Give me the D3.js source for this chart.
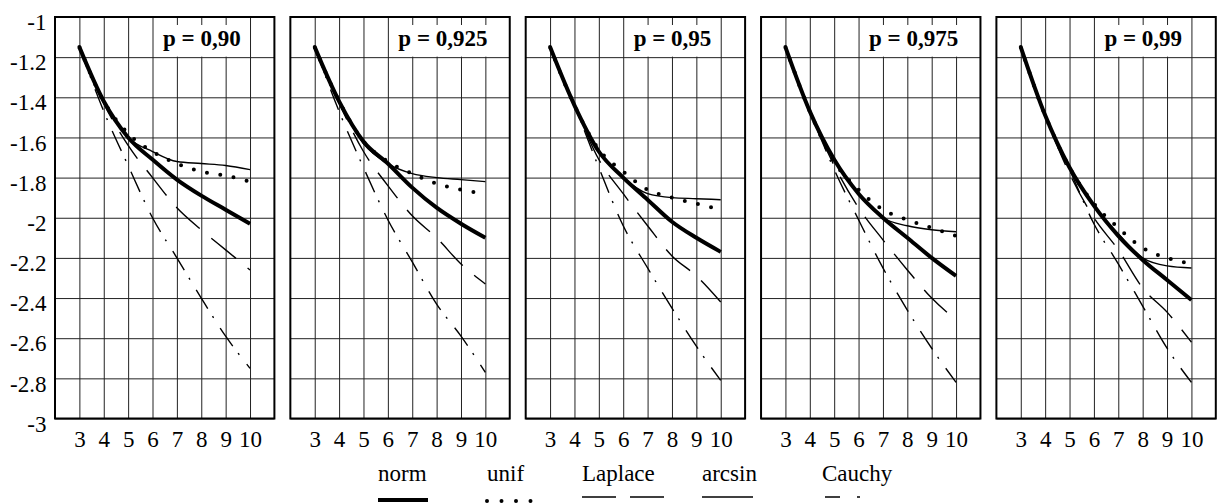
<!DOCTYPE html>
<html lang="en">
<head>
  <meta charset="UTF-8">
  <title>Quantile curves, five p levels</title>
  <script src="https://d3js.org/d3.v7.min.js"></script>
  <style>
  body {
    margin: 0;
    background: #fff;
  }
  svg text {
    font-family: "Liberation Serif", "Times New Roman", serif;
    fill: #000;
  }
  .grid line {
    stroke: #222;
    stroke-width: 1px;
  }
  .series {
    fill: none;
    stroke: #000;
  }
  </style>
</head>

<body>
  <div id="chart"></div>

  <script>

    var w = 1219;
    var h = 503;

    // data
    var xs = [3, 4, 5, 6, 7, 8, 9, 10];
    var yTicks = [-1, -1.2, -1.4, -1.6, -1.8, -2, -2.2, -2.4, -2.6, -2.8, -3];
    var panelLabels = ["p = 0,90", "p = 0,925", "p = 0,95", "p = 0,975", "p = 0,99"];
    var seriesNames = ["norm", "unif", "Laplace", "arcsin", "Cauchy"];

    // one row per panel, values at xs
    var norm = [
      [-1.15, -1.42, -1.60, -1.71, -1.81, -1.89, -1.96, -2.03],
      [-1.15, -1.42, -1.62, -1.73, -1.85, -1.95, -2.03, -2.10],
      [-1.15, -1.44, -1.67, -1.80, -1.91, -2.02, -2.10, -2.17],
      [-1.15, -1.47, -1.71, -1.88, -2.00, -2.10, -2.20, -2.29],
      [-1.15, -1.49, -1.75, -1.94, -2.09, -2.21, -2.31, -2.41]
    ];
    var unif = [
      [-1.15, -1.42, -1.58, -1.67, -1.73, -1.77, -1.79, -1.82],
      [-1.15, -1.42, -1.62, -1.72, -1.78, -1.83, -1.86, -1.88],
      [-1.15, -1.44, -1.66, -1.77, -1.86, -1.90, -1.93, -1.96],
      [-1.15, -1.47, -1.72, -1.86, -1.96, -2.01, -2.05, -2.09],
      [-1.15, -1.49, -1.75, -1.93, -2.05, -2.15, -2.20, -2.23]
    ];
    var laplace = [
      [-1.15, -1.43, -1.64, -1.80, -1.95, -2.06, -2.16, -2.26],
      [-1.15, -1.43, -1.67, -1.84, -1.99, -2.10, -2.23, -2.33],
      [-1.15, -1.44, -1.71, -1.88, -2.04, -2.19, -2.29, -2.42],
      [-1.15, -1.47, -1.74, -1.95, -2.11, -2.26, -2.40, -2.51],
      [-1.15, -1.49, -1.78, -2.00, -2.16, -2.35, -2.47, -2.62]
    ];
    var arcsin = [
      [-1.15, -1.42, -1.60, -1.67, -1.72, -1.73, -1.74, -1.76],
      [-1.15, -1.42, -1.63, -1.73, -1.78, -1.80, -1.81, -1.82],
      [-1.15, -1.44, -1.67, -1.80, -1.88, -1.90, -1.905, -1.91],
      [-1.15, -1.47, -1.71, -1.88, -2.00, -2.04, -2.06, -2.07],
      [-1.15, -1.49, -1.75, -1.94, -2.08, -2.20, -2.24, -2.25]
    ];
    var cauchy = [
      [-1.15, -1.47, -1.74, -2.00, -2.20, -2.40, -2.59, -2.75],
      [-1.15, -1.47, -1.75, -2.01, -2.22, -2.43, -2.59, -2.77],
      [-1.15, -1.44, -1.75, -2.04, -2.25, -2.45, -2.64, -2.81],
      [-1.15, -1.47, -1.76, -2.01, -2.25, -2.46, -2.65, -2.82],
      [-1.15, -1.49, -1.76, -2.03, -2.23, -2.44, -2.65, -2.82]
    ];

    var seriesValues = [norm, unif, laplace, arcsin, cauchy];

    // line look for each series
    var styles = [
      {width: 4, dash: null, cap: "butt"},
      {width: 4, dash: "0,13.5", cap: "round"},
      {width: 1.4, dash: "32,15", cap: "butt"},
      {width: 1.4, dash: null, cap: "butt"},
      {width: 1.4, dash: "22,9,2,12", cap: "butt"}
    ];

    var svg = d3.select("#chart").append("svg")
         .attr("width", w)
         .attr("height", h);

    var plotTop = 17, plotBottom = 418.5;
    var left0 = 55, pstep = 235.35, pw = 219.4;

    var y = d3.scaleLinear()
          .domain([-3, -1])
          .range([plotBottom, plotTop]);

    function cleanAxis(s) {
      s.select(".domain").remove();
      s.attr("font-family", null).attr("font-size", null);
    }

    panelLabels.forEach(function(lab, i) {
      var left = left0 + i * pstep;
      var x = d3.scaleLinear()
            .domain([2, 11])
            .range([left, left + pw]);

      var g = svg.append("g").attr("class", "panel");

      // vertical grid
      g.append("g")
        .attr("class", "grid")
        .attr("transform", "translate(0," + plotBottom + ")")
        .call(d3.axisBottom(x).tickValues(xs).tickSize(-(plotBottom - plotTop)).tickFormat(""))
        .call(cleanAxis);

      // horizontal grid
      g.append("g")
        .attr("class", "grid")
        .attr("transform", "translate(" + left + ",0)")
        .call(d3.axisRight(y).tickValues(yTicks).tickSize(pw).tickFormat(""))
        .call(cleanAxis);

      // x labels
      g.append("g")
        .attr("transform", "translate(0," + plotBottom + ")")
        .call(d3.axisBottom(x).tickValues(xs).tickSize(0).tickPadding(12))
        .call(cleanAxis)
        .call(function(s) {
          s.selectAll("text").style("font-size", "23px");
        });

      // y labels only on first panel
      if (i === 0) {
        g.append("g")
          .attr("transform", "translate(" + left + ",0)")
          .call(d3.axisLeft(y).tickValues(yTicks).tickSize(0).tickPadding(8.5)
                .tickFormat(function(d) { return String(d); }))
          .call(cleanAxis)
          .call(function(s) {
            s.selectAll("text").style("font-size", "23px").attr("dy", "0.55em");
          });
      }

      // p label with white box
      var lbl = g.append("g");
      var box = lbl.append("rect").attr("fill", "#fff");
      var t = lbl.append("text")
         .attr("x", left + 108)
         .attr("y", 46)
         .style("font-size", "23px")
         .style("font-weight", "bold")
         .text(lab);
      var bb = t.node().getBBox();
      box.attr("x", bb.x - 6)
         .attr("y", 25)
         .attr("width", bb.width + 12)
         .attr("height", y(-1.2) - 25 - 0.5);

      // series
      var line = d3.line()
            .x(function(d, k) { return x(xs[k]); })
            .y(function(d) { return y(d); })
            .curve(d3.curveMonotoneX);

      seriesValues.forEach(function(vals, s) {
        var st = styles[s];
        g.append("path")
          .attr("class", "series")
          .attr("d", line(vals[i]))
          .attr("stroke-width", st.width)
          .attr("stroke-dasharray", st.dash)
          .attr("stroke-linecap", st.cap);
      });

      // frame
      g.append("rect")
        .attr("x", left)
        .attr("y", plotTop)
        .attr("width", pw)
        .attr("height", plotBottom - plotTop)
        .attr("fill", "none")
        .attr("stroke", "#000")
        .attr("stroke-width", 2);
    });

    // legend
    var legendX = [378, 487, 582, 702, 822];
    var sampleLen = [50, 46, 83, 51, 37];
    var sampleDash = [null, "0,14.5", "34,14", null, "15,17,3,100"];
    var sampleY = [500, 501, 497, 497, 497];

    var legend = svg.append("g").attr("class", "legend");
    seriesNames.forEach(function(name, s) {
      legend.append("text")
        .attr("x", legendX[s])
        .attr("y", 481)
        .style("font-size", "23px")
        .text(name);
      var x0 = legendX[s] + (s === 4 ? 3 : 0);
      legend.append("line")
        .attr("x1", x0)
        .attr("x2", x0 + sampleLen[s])
        .attr("y1", sampleY[s])
        .attr("y2", sampleY[s])
        .attr("stroke", "#000")
        .attr("stroke-width", styles[s].width)
        .attr("stroke-dasharray", sampleDash[s])
        .attr("stroke-linecap", styles[s].cap);
    });

  </script>
</body>
</html>
